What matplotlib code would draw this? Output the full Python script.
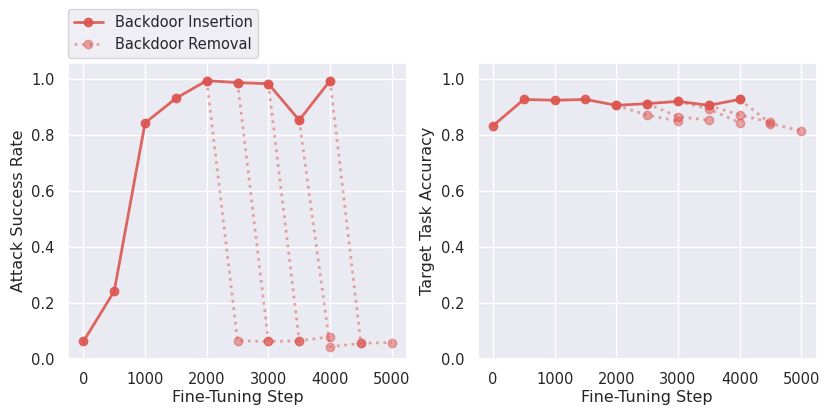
import matplotlib
matplotlib.use("Agg")
import matplotlib.pyplot as plt
import seaborn as sns

sns.set_theme(style="darkgrid")
plt.rcParams['font.family'] = ['DejaVu Sans']
plt.rcParams['xtick.labelsize'] = 10.5
plt.rcParams['ytick.labelsize'] = 10.5
plt.rcParams['axes.labelsize'] = 11.5
plt.rcParams['legend.fontsize'] = 10.5

steps = [0, 500, 1000, 1500, 2000, 2500, 3000, 3500, 4000]
asr_insert = [0.063, 0.242, 0.842, 0.93, 0.993, 0.986, 0.982, 0.852, 0.993]
acc_insert = [0.832, 0.926, 0.923, 0.926, 0.905, 0.911, 0.919, 0.905, 0.926]

# removal runs: start step -> start+500 -> start+1000
removal_starts = [2000, 2500, 3000, 3500, 4000]
asr_removal = [
    [0.065, 0.063],
    [0.063, 0.065],
    [0.065, 0.080],
    [0.044, 0.056],
    [0.056, 0.059],
]
acc_removal = [
    [0.870, 0.849],
    [0.865, 0.852],
    [0.892, 0.843],
    [0.871, 0.844],
    [0.840, 0.814],
]

color = "#dd5550"

fig, axes = plt.subplots(1, 2, figsize=(8.31, 4.18), dpi=100)
fig.subplots_adjust(left=0.0818, right=0.9828, top=0.850, bottom=0.141, wspace=0.2076)

panels = [
    (axes[0], asr_insert, asr_removal, "Attack Success Rate"),
    (axes[1], acc_insert, acc_removal, "Target Task Accuracy"),
]
for ax, ins, rem, ylabel in panels:
    for start, vals in zip(removal_starts, rem):
        x0 = steps.index(start)
        xs = [start, start + 500, start + 1000]
        ys = [ins[x0]] + vals
        ax.plot(xs, ys, linestyle=":", linewidth=2, marker="o", markersize=6,
                color=color, alpha=0.5)
    ax.plot(steps, ins, linestyle="-", linewidth=2, marker="o", markersize=6,
            color=color, alpha=0.9)
    ax.set_ylim(0, 1.057)
    ax.set_xlim(-250, 5250)
    ax.set_xticks([0, 1000, 2000, 3000, 4000, 5000])
    ax.set_yticks([0.0, 0.2, 0.4, 0.6, 0.8, 1.0])
    ax.set_xlabel("Fine-Tuning Step", labelpad=2)
    ax.set_ylabel(ylabel)

h1, = axes[0].plot([], [], linestyle="-", linewidth=2, marker="o", markersize=6,
                   color=color, alpha=0.9)
h2, = axes[0].plot([], [], linestyle=":", linewidth=2, marker="o", markersize=6,
                   color=color, alpha=0.5)
fig.legend([h1, h2], ["Backdoor Insertion", "Backdoor Removal"],
           loc="upper left", bbox_to_anchor=(0.0818, 0.978), borderaxespad=0,
           frameon=True)

fig.savefig("out.png")
